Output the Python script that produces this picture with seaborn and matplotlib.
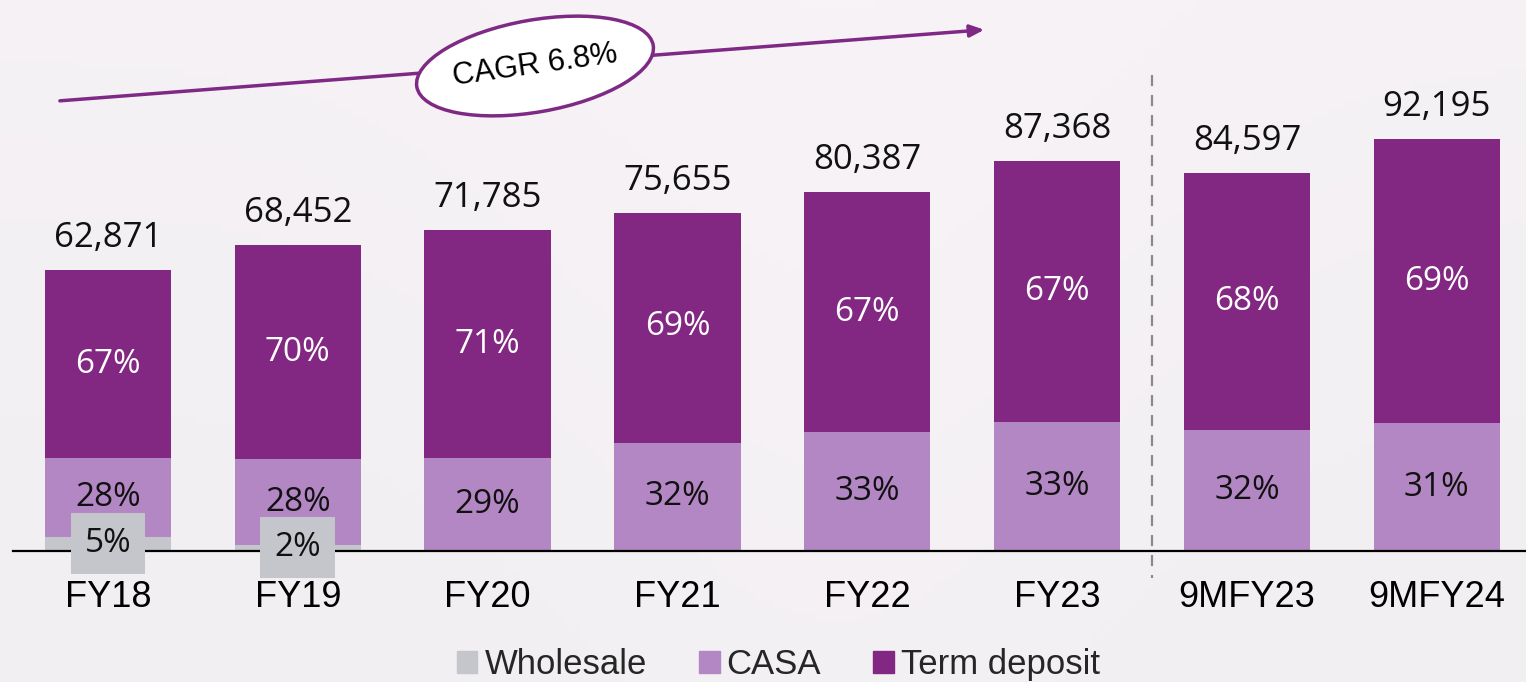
import matplotlib.pyplot as plt
import matplotlib.patches as mpatches
from matplotlib.patches import Ellipse
from matplotlib.colors import LinearSegmentedColormap
import seaborn as sns
import pandas as pd
import numpy as np

# deposit mix per period
periods = ['FY18', 'FY19', 'FY20', 'FY21', 'FY22', 'FY23', '9MFY23', '9MFY24']
totals = [62871, 68452, 71785, 75655, 80387, 87368, 84597, 92195]
wholesale_pct = [5, 2, 0, 0, 0, 0, 0, 0]
casa_pct = [28, 28, 29, 32, 33, 33, 32, 31]
term_pct = [67, 70, 71, 69, 67, 67, 68, 69]
cagr_label = 'CAGR 6.8%'

c_whole = '#c5c6cc'
c_casa = '#b386c4'
c_term = '#832882'
c_arrow = '#7e2a85'

df = pd.DataFrame({'period': periods, 'total': totals,
                   'wholesale': wholesale_pct, 'casa': casa_pct, 'term': term_pct})
df['whole_val'] = df['total'] * df['wholesale'] / 100
df['casa_val'] = df['total'] * df['casa'] / 100
df['term_val'] = df['total'] * df['term'] / 100
df['casa_top'] = df['whole_val'] + df['casa_val']

sns.set_theme(style='white')
plt.rcParams['font.family'] = ['Liberation Sans', 'DejaVu Sans']

fig = plt.figure(figsize=(15.26, 6.82), dpi=100)
fig.patch.set_facecolor('#f2f0f3')

# soft background gradient
bg = fig.add_axes([0, 0, 1, 1], zorder=-10)
gx = np.linspace(0, 1, 200)
gy = np.linspace(0, 1, 100)
X, Y = np.meshgrid(gx, gy)
grad = 0.5 * Y + 0.3 * np.exp(-((X - 0.55) ** 2) / 0.05)
cmap = LinearSegmentedColormap.from_list('bg', ['#f1eff2', '#f8f3f6'])
bg.imshow(grad, cmap=cmap, aspect='auto', extent=[0, 1, 0, 1], origin='lower')
bg.axis('off')

ax = fig.add_axes([13 / 1526, 131 / 682, 1513 / 1526, 551 / 682])
ax.patch.set_alpha(0)

w = 0.665
bar_kw = dict(width=w, saturation=1, linewidth=0, edgecolor='none', ax=ax)
sns.barplot(data=df, x='period', y='total', color=c_term, **bar_kw)
sns.barplot(data=df, x='period', y='casa_top', color=c_casa, **bar_kw)
sns.barplot(data=df, x='period', y='whole_val', color=c_whole, **bar_kw)

ax.set_xlim(-0.5, 7.47)
ax.set_ylim(0, 123300)
ax.set_xlabel('')
ax.set_ylabel('')
ax.set_yticks([])
for s in ['top', 'right', 'left']:
    ax.spines[s].set_visible(False)
ax.spines['bottom'].set_color('black')
ax.spines['bottom'].set_linewidth(1.6)
ax.spines['bottom'].set_zorder(5)
ax.tick_params(axis='x', length=0, pad=21, labelsize=26, colors='black')

num_font = ['Open Sans', 'DejaVu Sans']
for i, row in df.iterrows():
    ax.text(i, row['total'] + 3300, f"{row['total']:,}", ha='center', va='bottom',
            fontsize=25, family=num_font, color='#111111')
    ax.text(i, row['casa_top'] + row['term_val'] / 2, f"{row['term']}%", ha='center',
            va='center', fontsize=24, family=num_font, color='white')
    ax.text(i, row['whole_val'] + row['casa_val'] / 2, f"{row['casa']}%", ha='center',
            va='center', fontsize=24, family=num_font, color='#111111')
    if row['wholesale'] > 0:
        ax.text(i, row['whole_val'] / 2, f"{row['wholesale']}%", ha='center', va='center',
                fontsize=24, family=num_font, color='#111111', zorder=6,
                bbox=dict(boxstyle='square,pad=0.42', fc=c_whole, ec='none'))

# separator between full years and nine-month periods
ax.plot([5.5, 5.5], [0.864, -0.049], transform=ax.get_xaxis_transform(),
        color='#8a8a8a', lw=1.6, ls=(0, (5, 4)), clip_on=False)

# CAGR arrow with ellipse label
ax.annotate('', xy=(0.642, 0.946), xytext=(0.031, 0.817), xycoords='axes fraction',
            arrowprops=dict(arrowstyle='-|>,head_length=0.7,head_width=0.3',
                            color=c_arrow, lw=2.5, shrinkA=0, shrinkB=0))
ell = Ellipse((5.35, 6.16), 2.4, 0.92, angle=10, transform=fig.dpi_scale_trans,
              fc='white', ec=c_arrow, lw=2.5, zorder=8)
fig.patches.append(ell)
fig.text(5.35 / 15.26, 6.16 / 6.82, cagr_label, ha='center', va='center',
         fontsize=22, rotation=8, color='black', zorder=9)

handles = [mpatches.Patch(color=c_whole, label='Wholesale'),
           mpatches.Patch(color=c_casa, label='CASA'),
           mpatches.Patch(color=c_term, label='Term deposit')]
fig.legend(handles=handles, loc='lower center', bbox_to_anchor=(0.51, -0.045), ncol=3,
           frameon=False, fontsize=25, handlelength=0.6, handleheight=0.6,
           handletextpad=0.2, columnspacing=1.5)

fig.savefig('out.png', dpi=100, facecolor=fig.get_facecolor())
